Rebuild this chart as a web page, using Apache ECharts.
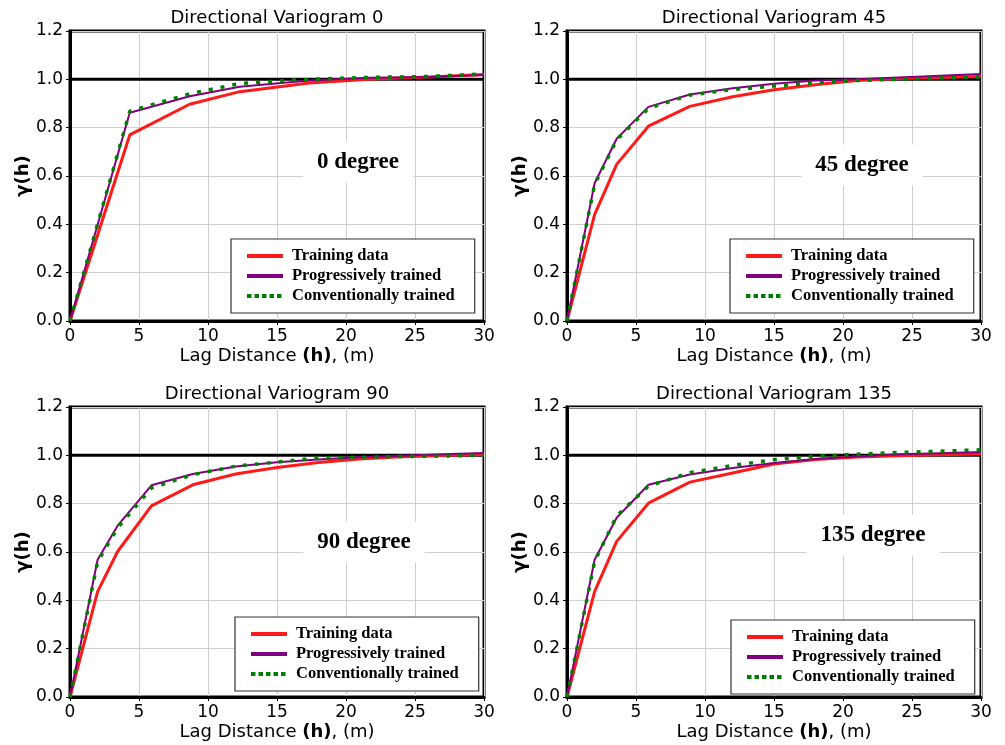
<!DOCTYPE html>
<html><head><meta charset="utf-8">
<script src="https://cdn.jsdelivr.net/npm/echarts@6/dist/echarts.min.js"></script>
<style>html,body{margin:0;padding:0;background:#fff}#c{width:1005px;height:745px}</style>
</head><body><div id="c"></div>
<script>
// ---------------- data ----------------
const X_MIN = 0, X_MAX = 30, X_STEP = 5;
const Y_MIN = 0, Y_MAX = 1.2, Y_STEP = 0.2;
const SILL = 1.0;
const SERIES_NAMES = ['Training data', 'Progressively trained', 'Conventionally trained'];
const PANEL_TITLES = ['Directional Variogram 0', 'Directional Variogram 45', 'Directional Variogram 90', 'Directional Variogram 135'];
const PANEL_NOTES = ['0 degree', '45 degree', '90 degree', '135 degree'];

const LAGS_0  = [0, 4.33, 8.67, 12.3, 17.33, 21.67, 26, 30];
const TRAIN_0 = [0, 0.770, 0.897, 0.949, 0.985, 1.000, 1.010, 1.020];
const PROG_0  = [0, 0.862, 0.930, 0.969, 0.995, 1.007, 1.010, 1.018];
const CONV_0  = [0, 0.868, 0.940, 0.983, 1.000, 1.008, 1.012, 1.022];

const LAGS_45  = [0, 2, 3.6, 5.9, 8.9, 12, 15, 18, 21, 24, 27, 30];
const TRAIN_45 = [0, 0.440, 0.648, 0.806, 0.888, 0.928, 0.957, 0.978, 0.995, 1.003, 1.008, 1.012];
const PROG_45  = [0, 0.570, 0.754, 0.886, 0.937, 0.963, 0.982, 0.995, 1.000, 1.008, 1.015, 1.022];
const CONV_45  = [0, 0.565, 0.750, 0.880, 0.935, 0.958, 0.972, 0.985, 0.995, 1.000, 1.005, 1.010];

const LAGS_90  = [0, 2, 3.45, 5.9, 8.9, 12, 15, 18, 21, 24, 27, 30];
const TRAIN_90 = [0, 0.436, 0.602, 0.791, 0.878, 0.923, 0.950, 0.970, 0.985, 0.994, 0.999, 1.003];
const PROG_90  = [0, 0.568, 0.709, 0.876, 0.923, 0.954, 0.971, 0.983, 0.992, 0.998, 1.004, 1.010];
const CONV_90  = [0, 0.560, 0.700, 0.865, 0.920, 0.955, 0.972, 0.990, 0.992, 0.995, 0.997, 1.000];

const LAGS_135  = [0, 2, 3.6, 5.9, 8.9, 12, 15, 18, 21, 24, 27, 30];
const TRAIN_135 = [0, 0.436, 0.644, 0.802, 0.889, 0.927, 0.964, 0.983, 0.993, 0.998, 1.002, 1.006];
const PROG_135  = [0, 0.568, 0.742, 0.878, 0.921, 0.948, 0.968, 0.985, 0.995, 1.004, 1.009, 1.014];
const CONV_135  = [0, 0.561, 0.749, 0.873, 0.928, 0.958, 0.982, 0.996, 1.005, 1.012, 1.017, 1.023];

const PANELS = [
  { lags: LAGS_0,   vals: [TRAIN_0,   PROG_0,   CONV_0] },
  { lags: LAGS_45,  vals: [TRAIN_45,  PROG_45,  CONV_45] },
  { lags: LAGS_90,  vals: [TRAIN_90,  PROG_90,  CONV_90] },
  { lags: LAGS_135, vals: [TRAIN_135, PROG_135, CONV_135] }
];

// ---------------- layout / style ----------------
const GRIDS = [
  { left: 70,  top: 31,  width: 414, height: 290 },
  { left: 567, top: 31,  width: 414, height: 290 },
  { left: 70,  top: 407, width: 414, height: 290 },
  { left: 567, top: 407, width: 414, height: 290 }
];
const NOTE_POS = [[358, 162], [862, 165], [364, 542], [873, 535]];
const LEGEND_POS = [[231, 239], [730, 239], [235, 617], [731, 620]];
const COLORS = ['#ff1a1a', '#800080', '#008000'];
const LINE_STYLES = [
  { width: 3, type: 'solid' },
  { width: 2, type: 'solid' },
  { width: 3.5, type: [4, 8] }
];
const LEGEND_LINES = [
  { width: 4, type: 'solid' },
  { width: 4, type: 'solid' },
  { width: 4, type: [4.5, 3] }
];
const SANS = 'DejaVu Sans';
const SERIF = 'Liberation Serif';

const chart = echarts.init(document.getElementById('c'), null, { renderer: 'canvas' });

const grid = GRIDS.map(g => Object.assign({}, g, {
  show: true, borderColor: '#000', borderWidth: 3, backgroundColor: 'transparent', containLabel: false
}));

const xAxis = GRIDS.map((g, i) => ({
  gridIndex: i, type: 'value', min: X_MIN, max: X_MAX, interval: X_STEP,
  axisLine: { show: true, onZero: false, lineStyle: { color: '#000', width: 3 } },
  axisTick: { show: true, inside: false, length: 4, lineStyle: { color: '#000', width: 1 } },
  axisLabel: { color: '#000', fontSize: 17, fontFamily: SANS, margin: 7 },
  splitLine: { show: true, lineStyle: { color: '#cfcfcf', width: 1 } },
  name: '{n|Lag Distance }{b|(h)}{n|, (m)}',
  nameLocation: 'middle', nameGap: 26,
  nameTextStyle: {
    rich: {
      n: { fontFamily: SANS, fontSize: 18, color: '#000' },
      b: { fontFamily: SANS, fontSize: 18, color: '#000', fontWeight: 'bold' }
    }
  }
}));

const yAxis = GRIDS.map((g, i) => ({
  gridIndex: i, type: 'value', min: Y_MIN, max: Y_MAX, interval: Y_STEP,
  axisLine: { show: true, onZero: false, lineStyle: { color: '#000', width: 3 } },
  axisTick: { show: true, inside: false, length: 4, lineStyle: { color: '#000', width: 1 } },
  axisLabel: { color: '#000', fontSize: 17, fontFamily: SANS, margin: 7, formatter: v => v.toFixed(1) },
  splitLine: { show: true, lineStyle: { color: '#cfcfcf', width: 1 } },
  name: '{n|γ}{b|(h)}',
  nameLocation: 'middle', nameGap: 35,
  nameTextStyle: {
    rich: {
      n: { fontFamily: SANS, fontSize: 18, color: '#000', fontWeight: 'bold' },
      b: { fontFamily: SANS, fontSize: 18, color: '#000', fontWeight: 'bold' }
    }
  }
}));

const series = [];
PANELS.forEach((p, i) => {
  series.push({
    name: 'sill', type: 'line', xAxisIndex: i, yAxisIndex: i, symbol: 'none', silent: true, z: 2,
    data: [[X_MIN, SILL], [X_MAX, SILL]],
    lineStyle: { color: '#000', width: 3 }
  });
  p.vals.forEach((vals, k) => {
    series.push({
      name: SERIES_NAMES[k], type: 'line', xAxisIndex: i, yAxisIndex: i,
      symbol: 'none', z: 3 + k,
      data: p.lags.map((h, j) => [h, vals[j]]),
      lineStyle: { color: COLORS[k], width: LINE_STYLES[k].width, type: LINE_STYLES[k].type },
      itemStyle: { color: COLORS[k] }
    });
  });
});

const legend = LEGEND_POS.map(pos => ({
  left: pos[0], top: pos[1], orient: 'vertical',
  backgroundColor: '#fff', borderColor: '#333', borderWidth: 1.2, borderRadius: 0,
  padding: [7, 20, 7, 14], itemGap: 0, itemWidth: 36, itemHeight: 14,
  textStyle: { fontFamily: SERIF, fontWeight: 'bold', fontSize: 16.5, color: '#000', lineHeight: 20, padding: [0, 0, 0, 4] },
  selectedMode: false,
  data: SERIES_NAMES.map((n, k) => ({
    name: n,
    itemStyle: { opacity: 0, color: 'rgba(0,0,0,0)', borderWidth: 0 },
    lineStyle: { color: COLORS[k], width: LEGEND_LINES[k].width, type: LEGEND_LINES[k].type, opacity: 1 }
  }))
}));

const graphic = [];
GRIDS.forEach((g, i) => {
  graphic.push({
    type: 'text', x: g.left + g.width / 2, y: g.top - 13, z: 10,
    style: { text: PANEL_TITLES[i], font: '18px "DejaVu Sans"', fill: '#000', textAlign: 'center', textVerticalAlign: 'middle' }
  });
  graphic.push({
    type: 'text', x: NOTE_POS[i][0], y: NOTE_POS[i][1], z: 10,
    style: {
      text: PANEL_NOTES[i], font: 'bold 23px "Liberation Serif"', fill: '#000',
      textAlign: 'center', textVerticalAlign: 'middle',
      backgroundColor: '#fff', padding: [9, 14]
    }
  });
});

chart.setOption({
  animation: false,
  backgroundColor: '#fff',
  grid, xAxis, yAxis, series, legend, graphic
});
</script>
</body></html>
